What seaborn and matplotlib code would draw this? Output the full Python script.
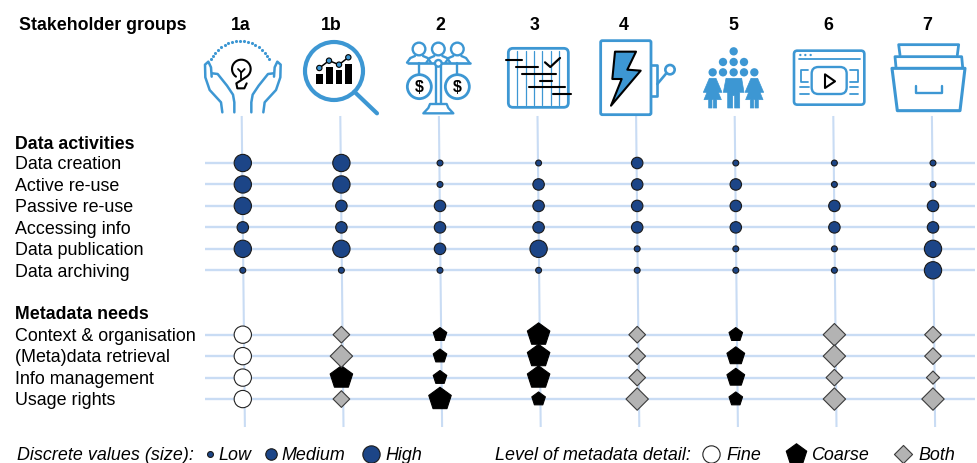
import numpy as np
import pandas as pd
import matplotlib
matplotlib.use("Agg")
import matplotlib.pyplot as plt
from matplotlib.patches import Circle, Polygon, FancyBboxPatch, Rectangle
import seaborn as sns

sns.set_theme(style="white")
plt.rcParams["font.family"] = ["Liberation Sans", "DejaVu Sans"]

groups = ["1a", "1b", "2", "3", "4", "5", "6", "7"]

activities = ["Data creation", "Active re-use", "Passive re-use", "Accessing info",
              "Data publication", "Data archiving"]
data_creation = ["High", "High", "Low", "Low", "Medium", "Low", "Low", "Low"]
active_reuse = ["High", "High", "Low", "Medium", "Medium", "Medium", "Low", "Low"]
passive_reuse = ["High", "Medium", "Medium", "Medium", "Medium", "Medium", "Medium", "Medium"]
accessing_info = ["Medium", "Medium", "Medium", "Medium", "Medium", "Medium", "Medium", "Medium"]
data_publication = ["High", "High", "Medium", "High", "Low", "Low", "Low", "High"]
data_archiving = ["Low", "Low", "Low", "Low", "Low", "Low", "Low", "High"]

needs = ["Context & organisation", "(Meta)data retrieval", "Info management", "Usage rights"]
context_size = ["High", "Medium", "Low", "High", "Medium", "Low", "High", "Medium"]
retrieval_size = ["High", "High", "Low", "High", "Medium", "Medium", "High", "Medium"]
info_size = ["High", "High", "Low", "High", "Medium", "Medium", "Medium", "Low"]
usage_size = ["High", "Medium", "High", "Low", "High", "Low", "High", "High"]
context_detail = ["Fine", "Both", "Coarse", "Coarse", "Both", "Coarse", "Both", "Both"]
retrieval_detail = ["Fine", "Both", "Coarse", "Coarse", "Both", "Coarse", "Both", "Both"]
info_detail = ["Fine", "Coarse", "Coarse", "Coarse", "Both", "Coarse", "Both", "Both"]
usage_detail = ["Fine", "Both", "Coarse", "Coarse", "Both", "Coarse", "Both", "Both"]

# long tables for seaborn
act_rows = [data_creation, active_reuse, passive_reuse, accessing_info, data_publication, data_archiving]
need_sizes = [context_size, retrieval_size, info_size, usage_size]
need_details = [context_detail, retrieval_detail, info_detail, usage_detail]

act_df = pd.DataFrame([
    {"col": c, "row": r, "level": act_rows[r][c]}
    for r in range(len(activities)) for c in range(len(groups))
])
need_df = pd.DataFrame([
    {"col": c, "row": r + 8, "level": need_sizes[r][c], "detail": need_details[r][c]}
    for r in range(len(needs)) for c in range(len(groups))
])

# pixel layout of the figure
X0, DX = 242.8, 98.6
Y0, DY = 164.0, 21.46
BLUE = "#3d97d3"
NAVY = "#1c4587"
GRID = "#c9dcf4"
EDGE = "#1a1a1a"

fig = plt.figure(figsize=(9.77, 4.64), dpi=100)
ax = fig.add_axes([0, 0, 1, 1])
ax.set_xlim((0 - X0) / DX, (977 - X0) / DX)
ax.set_ylim((464 - Y0) / DY, (0 - Y0) / DY)
ax.axis("off")

px = lambda v: (v - X0) / DX
py = lambda v: (v - Y0) / DY

for i in range(len(groups)):
    ax.plot([px(241.7 + DX * i), px(244.9 + DX * i)], [py(117), py(428)],
            color=GRID, lw=1.5, zorder=1, solid_capstyle="butt")
for r in list(range(len(activities))) + [8, 9, 10, 11]:
    ax.plot([px(205), px(975)], [r, r], color=GRID, lw=1.7, zorder=1, solid_capstyle="butt")

circle_sizes = {"Low": 18, "Medium": 68, "High": 155}
sns.scatterplot(data=act_df, x="col", y="row", size="level", sizes=circle_sizes, marker="o",
                color=NAVY, edgecolor=EDGE, linewidth=0.8, legend=False, ax=ax, zorder=3)

detail_styles = {
    "Fine": ("o", "white", "#222222", {"Low": 155, "Medium": 155, "High": 155}),
    "Coarse": ("p", "black", "black", {"Low": 105, "Medium": 180, "High": 290}),
    "Both": ("D", "#b3b3b3", "#3a3a3a", {"Low": 45, "Medium": 72, "High": 130}),
}
for detail, (mk, fc, ec, sz) in detail_styles.items():
    sub = need_df[need_df["detail"] == detail]
    sns.scatterplot(data=sub, x="col", y="row", size="level", sizes=sz, marker=mk,
                    color=fc, edgecolor=ec, linewidth=0.8, legend=False, ax=ax, zorder=3)
ax.set_xlim((0 - X0) / DX, (977 - X0) / DX)
ax.set_ylim((464 - Y0) / DY, (0 - Y0) / DY)
ax.set_xlabel("")
ax.set_ylabel("")

# overlay in pixels for texts, legend and icons
ov = fig.add_axes([0, 0, 1, 1], facecolor="none")
ov.set_xlim(0, 977)
ov.set_ylim(464, 0)
ov.axis("off")

FS = 12.9
BOLD = 12.75
ov.text(19, 26, "Stakeholder groups", fontsize=BOLD, fontweight="bold", va="center", color="black")
group_x = [241, 331, 440, 535, 624, 733, 828, 927]
for g, x in zip(groups, group_x):
    ov.text(x, 26, g, fontsize=BOLD, fontweight="bold", ha="center", va="center", color="black")
ov.text(15, 145, "Data activities", fontsize=BOLD, fontweight="bold", va="center", color="black")
ov.text(15, 315, "Metadata needs", fontsize=BOLD, fontweight="bold", va="center", color="black")
for r, name in enumerate(activities):
    ov.text(15, Y0 + DY * r + 1, name, fontsize=FS, va="center", color="black")
for r, name in enumerate(needs):
    ov.text(15, Y0 + DY * (r + 8) + 0.5, name, fontsize=FS, va="center", color="black")

LY = 456
MY = 455
LEG = 12.85
ov.text(17, LY, "Discrete values (size):", fontsize=LEG, style="italic", va="center", color="black")
ov.text(495, LY, "Level of metadata detail:", fontsize=LEG, style="italic", va="center", color="black")
for x, s, label, tx in [(210, 18, "Low", 218), (271, 68, "Medium", 281), (371, 155, "High", 385)]:
    ov.scatter([x], [MY], s=s, marker="o", color=NAVY, edgecolor=EDGE, linewidth=0.8)
    ov.text(tx, LY, label, fontsize=LEG, style="italic", va="center", color="black")
for x, mk, fc, ec, s, label, tx in [(711, "o", "white", "#222222", 155, "Fine", 726.5),
                                    (796, "p", "black", "black", 240, "Coarse", 811),
                                    (903, "D", "#b3b3b3", "#3a3a3a", 85, "Both", 918)]:
    ov.scatter([x], [MY], s=s, marker=mk, color=fc, edgecolor=ec, linewidth=0.8)
    ov.text(tx, LY, label, fontsize=LEG, style="italic", va="center", color="black")


# icons, written from 3x crops of the picture
def pts(ox, oy, p):
    return [(ox + a / 3, oy + b / 3) for a, b in p]


def line(ox, oy, p, color=BLUE, lw=2.0, **kw):
    q = pts(ox, oy, p)
    ov.plot([a for a, b in q], [b for a, b in q], color=color, lw=lw,
            solid_capstyle="round", solid_joinstyle="round", **kw)


def poly(ox, oy, p, fc="none", ec=BLUE, lw=2.0, z=4):
    ov.add_patch(Polygon(pts(ox, oy, p), closed=True, facecolor=fc, edgecolor=ec, lw=lw,
                         joinstyle="round", zorder=z))


def circ(ox, oy, x, y, r, fc="none", ec=BLUE, lw=2.0, z=4):
    ov.add_patch(Circle((ox + x / 3, oy + y / 3), r / 3, facecolor=fc, edgecolor=ec, lw=lw, zorder=z))


def rrect(ox, oy, x0, y0, x1, y1, rad, ec=BLUE, lw=2.0):
    ov.add_patch(FancyBboxPatch((ox + x0 / 3, oy + y0 / 3), (x1 - x0) / 3, (y1 - y0) / 3,
                                boxstyle="round,pad=0,rounding_size=%g" % (rad / 3),
                                facecolor="none", edgecolor=ec, lw=lw))


# 1a hands and bulb
o1 = (195, 35)
ang = np.linspace(np.radians(205), np.radians(335), 19)
ov.scatter(240 + 32 * np.cos(ang), 74 + 32 * np.sin(ang), s=5, color=BLUE, linewidth=0)
left_outer = [(82, 235), (78, 205), (44, 168), (31, 130), (30, 92), (40, 83), (48, 100), (50, 128)]
left_inner = [(52, 118), (68, 120), (96, 155), (114, 182), (118, 205), (118, 235)]
for seg in (left_outer, left_inner):
    line(*o1, seg, lw=1.8)
    line(*o1, [(287 - a, b) for a, b in seg], lw=1.8)
th = np.linspace(np.radians(125), np.radians(415), 30)
bulb = [(139 + 28 * np.cos(t), 105 + 28 * np.sin(t)) for t in th]
line(*o1, bulb + [(124, 148), (127, 163), (148, 163), (155, 148)], color="black", lw=1.5)
line(*o1, [(129, 105), (139, 115), (149, 105)], color="black", lw=1.3)
line(*o1, [(139, 115), (139, 135)], color="black", lw=1.3)

# 1b magnifier
circ(*o1, 417, 111, 87, lw=3.0)
line(*o1, [(478, 173), (546, 238)], lw=3.0)
for x0, x1, y0 in [(363, 385, 120), (393, 415, 100), (422, 442, 108), (450, 472, 90)]:
    ov.add_patch(Rectangle((o1[0] + x0 / 3, o1[1] + y0 / 3), (x1 - x0) / 3, (150 - y0) / 3,
                           facecolor="black", edgecolor="none"))
trend = [(373, 102), (402, 80), (432, 92), (460, 70)]
line(*o1, trend, color="black", lw=1.1)
for a, b in trend:
    circ(*o1, a, b, 8, fc=BLUE, ec="black", lw=0.8)

# 2 persons and scale
o2 = (395, 35)
for hx in (72, 130, 187):
    circ(*o2, hx, 45, 19, lw=1.7)
    line(*o2, [(hx - 36, 86), (hx - 26, 72), (hx - 12, 66)], lw=1.7)
    line(*o2, [(hx + 36, 86), (hx + 26, 72), (hx + 12, 66)], lw=1.7)
line(*o2, [(38, 88), (225, 88)], lw=1.9)
line(*o2, [(122, 95), (122, 208)], lw=1.7)
line(*o2, [(138, 95), (138, 208)], lw=1.7)
circ(*o2, 130, 88, 10, fc="white", lw=1.7, z=5)
for cx in (73, 187):
    line(*o2, [(cx, 88), (cx, 122)], lw=1.7)
    circ(*o2, cx, 158, 36, fc="white", lw=2.0)
    ov.text(o2[0] + cx / 3, o2[1] + 157 / 3, "$", fontsize=11.5, fontweight="bold", ha="center",
            va="center", color="black", zorder=6)
poly(*o2, [(105, 210), (155, 210), (160, 222), (175, 238), (85, 238), (100, 222)], lw=1.7)

# 3 gantt
rrect(*o2, 340, 43, 520, 220, 14, lw=2.0)
for vx in (367, 392, 417, 442, 467, 492):
    line(*o2, [(vx, 50), (vx, 212)], lw=0.9)
for a, b, y in [(333, 380, 78), (362, 430, 100), (382, 482, 120), (435, 470, 140),
                (402, 510, 160), (475, 527, 180)]:
    line(*o2, [(a, y), (b, y)], color="black", lw=1.5, zorder=5)
line(*o2, [(450, 85), (466, 99), (495, 72)], color="black", lw=1.6, zorder=5)

# 4 switch box
o3 = (490, 0)
rrect(*o3, 332, 125, 483, 347, 5, lw=2.0)
line(*o3, [(483, 197), (502, 197), (502, 290), (483, 290)], lw=1.9)
line(*o3, [(502, 255), (528, 224)], lw=1.9)
circ(*o3, 540, 212, 14, lw=1.9)
poly(*o3, [(375, 158), (438, 158), (412, 212), (452, 215), (363, 320), (395, 240), (367, 240)],
     fc=BLUE, ec="black", lw=1.5)

# 5 crowd
for a, b in [(731, 157), (699, 189), (731, 189), (762, 189), (668, 220), (699, 220),
             (731, 220), (762, 220), (793, 220)]:
    circ(*o3, a, b, 12.5, fc=BLUE, ec="none", lw=0)
poly(*o3, [(708, 238), (755, 238), (762, 280), (749, 280), (749, 327), (734, 327), (734, 290),
           (728, 290), (728, 327), (713, 327), (713, 280), (700, 280)], fc=BLUE, ec=BLUE, lw=0.5)
for cx in (668, 793):
    poly(*o3, [(cx - 10, 238), (cx + 10, 238), (cx + 28, 280), (cx + 17, 280), (cx + 26, 302), (cx + 12, 302),
               (cx + 12, 327), (cx + 2, 327), (cx + 2, 302), (cx - 2, 302), (cx - 2, 327), (cx - 12, 327),
               (cx - 12, 302), (cx - 26, 302), (cx - 17, 280), (cx - 28, 280)], fc=BLUE, ec=BLUE, lw=0.5)

# 6 video window
rrect(*o3, 912, 155, 1123, 317, 10, lw=1.9)
line(*o3, [(928, 181), (1110, 181)], lw=1.3)
for a in (931, 946, 962):
    circ(*o3, a, 168, 3.5, fc=BLUE, ec="none", lw=0)
rrect(*o3, 965, 204, 1070, 285, 20, lw=1.7)
poly(*o3, [(1005, 226), (1035, 247), (1005, 267)], ec="black", lw=1.5)
line(*o3, [(955, 213), (932, 213), (932, 250), (955, 250)], lw=1.3)
line(*o3, [(1080, 213), (1103, 213), (1103, 250), (1080, 250)], lw=1.3)
for y in (265, 285):
    line(*o3, [(930, y), (957, y)], lw=1.3)
    line(*o3, [(1080, y), (1105, y)], lw=1.3)

# 7 card drawer
line(*o3, [(1230, 168), (1226, 137), (1406, 137), (1402, 168)], lw=2.0)
line(*o3, [(1218, 205), (1215, 173), (1415, 173), (1418, 205)], lw=2.0)
poly(*o3, [(1206, 208), (1425, 208), (1410, 335), (1222, 335)], lw=2.2)
line(*o3, [(1278, 260), (1278, 282), (1355, 282), (1355, 260)], lw=1.7)

fig.savefig("out.png", dpi=100)
